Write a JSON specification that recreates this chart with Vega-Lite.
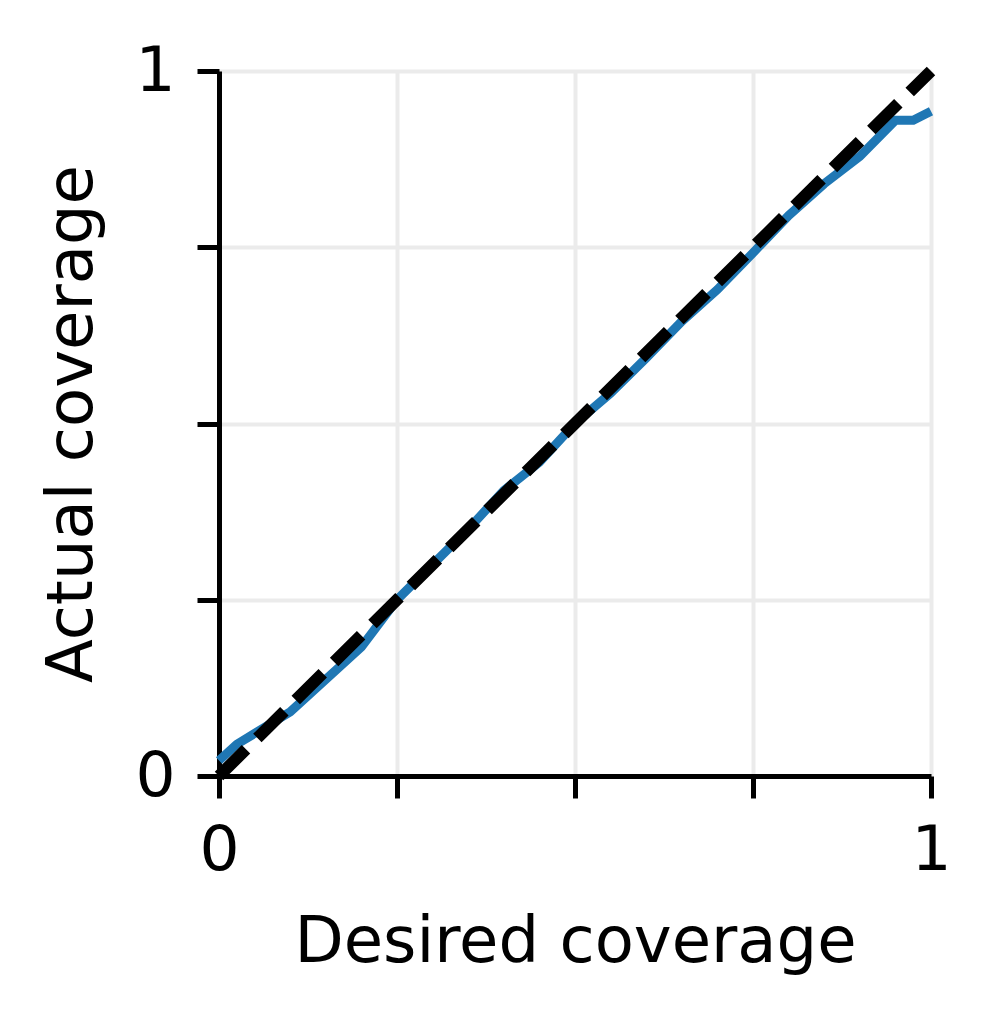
{
  "$schema": "https://vega.github.io/schema/vega-lite/v6.json",
  "autosize": "none",
  "width": 712,
  "height": 705,
  "padding": {"left": 219, "top": 71, "right": 67, "bottom": 242},
  "background": "white",
  "config": {
    "view": {"stroke": null},
    "font": "DejaVu Sans",
    "axis": {
      "labelFont": "DejaVu Sans",
      "titleFont": "DejaVu Sans",
      "labelFontSize": 63,
      "titleFontSize": 64,
      "titleFontWeight": "normal",
      "labelColor": "black",
      "titleColor": "black",
      "domainColor": "black",
      "domainWidth": 5,
      "tickColor": "black",
      "tickWidth": 5,
      "tickSize": 22,
      "gridColor": "#ebebeb",
      "gridWidth": 4
    }
  },
  "datasets": {
    "coverage": [
      {"desired": 0.0, "actual": 0.022},
      {"desired": 0.025, "actual": 0.045},
      {"desired": 0.1, "actual": 0.091},
      {"desired": 0.15, "actual": 0.137},
      {"desired": 0.2, "actual": 0.183},
      {"desired": 0.25, "actual": 0.25},
      {"desired": 0.3, "actual": 0.3},
      {"desired": 0.35, "actual": 0.35},
      {"desired": 0.4, "actual": 0.405},
      {"desired": 0.45, "actual": 0.445},
      {"desired": 0.5, "actual": 0.5},
      {"desired": 0.55, "actual": 0.543},
      {"desired": 0.6, "actual": 0.593},
      {"desired": 0.65, "actual": 0.645},
      {"desired": 0.7, "actual": 0.69},
      {"desired": 0.75, "actual": 0.742},
      {"desired": 0.8, "actual": 0.795},
      {"desired": 0.85, "actual": 0.84},
      {"desired": 0.9, "actual": 0.879},
      {"desired": 0.95, "actual": 0.93},
      {"desired": 0.975, "actual": 0.93},
      {"desired": 1.0, "actual": 0.943}
    ],
    "ideal": [
      {"desired": 0, "actual": 0},
      {"desired": 1, "actual": 1}
    ]
  },
  "encoding": {
    "x": {
      "field": "desired",
      "type": "quantitative",
      "scale": {"domain": [0, 1], "nice": false, "zero": false},
      "axis": {
        "title": "Desired coverage",
        "values": [0, 0.25, 0.5, 0.75, 1],
        "labelExpr": "datum.value == 0 ? '0' : datum.value == 1 ? '1' : ''",
        "labelPadding": 21,
        "titlePadding": 28,
        "labelFlush": false,
        "grid": true
      }
    },
    "y": {
      "field": "actual",
      "type": "quantitative",
      "scale": {"domain": [0, 1], "nice": false, "zero": false},
      "axis": {
        "title": "Actual coverage",
        "values": [0, 0.25, 0.5, 0.75, 1],
        "labelExpr": "datum.value == 0 ? '0' : datum.value == 1 ? '1' : ''",
        "labelPadding": 22,
        "titlePadding": 30,
        "labelFlush": false,
        "grid": true
      }
    }
  },
  "layer": [
    {
      "data": {"name": "coverage"},
      "mark": {"type": "line", "color": "#1f77b4", "strokeWidth": 9, "strokeJoin": "miter", "strokeCap": "butt"}
    },
    {
      "data": {"name": "ideal"},
      "mark": {"type": "line", "color": "black", "strokeWidth": 12, "strokeDash": [38, 16], "strokeCap": "butt"}
    }
  ]
}
